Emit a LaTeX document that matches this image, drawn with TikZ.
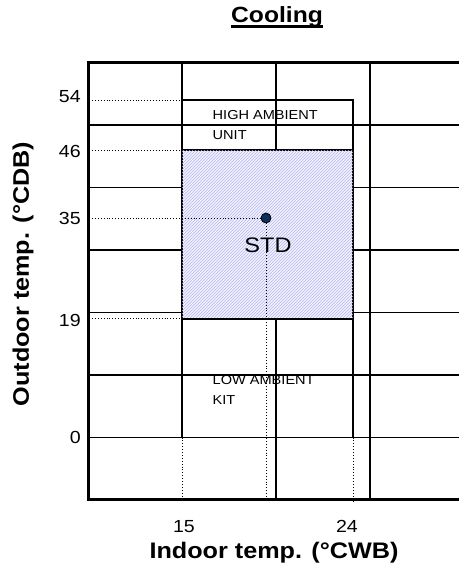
\documentclass[tikz,border=0pt]{standalone}
\usepackage{fontspec}
\setmainfont[FakeStretch=1.12]{Liberation Sans}
\usetikzlibrary{positioning,patterns}
\definecolor{hatchblue}{RGB}{182,182,240}
\definecolor{hatchback}{RGB}{242,242,254}
\definecolor{dotnavy}{RGB}{12,48,92}

\begin{document}
\begin{tikzpicture}[x=1pt, y=-1pt,
    gridline/.style={line width=1.1pt},
    frameline/.style={line width=3pt},
    zone/.style={draw, line width=1.7pt, minimum width=171pt, inner sep=0pt, outer sep=0pt},
    guide/.style={dotted, line width=0.9pt},
    tick/.style={font=\fontsize{17.5}{19}\selectfont, inner sep=1pt},
    axis/.style={font=\bfseries\fontsize{22.5}{25}\selectfont},
    zonetext/.style={font=\fontsize{13}{19.5}\selectfont, align=left, inner sep=0pt, anchor=north west}
]
\useasboundingbox (0,0) rectangle (459,571);

% grid
\foreach \y in {125,187.5,250,312.5,375,437.5}
  \draw[gridline] (88,\y) -- (459,\y);
\draw[gridline] (182,62) -- (182,437.5);
\foreach \x in {276,370}
  \draw[gridline] (\x,62) -- (\x,499);

% operating zones
\node[zone, minimum height=50pt, anchor=north west] (high) at (182,100) {};
\node[zone, minimum height=168.75pt, below=0pt of high,
      fill=hatchback, postaction={pattern=north east lines, pattern color=hatchblue}] (std) {};
\node[zone, minimum height=118.75pt, below=0pt of std] (low) {};

\node[zonetext] (hightext) at (212.5,110.5) {HIGH AMBIENT\\UNIT};
\node[zonetext] (lowtext) at (212.5,375.5) {LOW AMBIENT\\KIT};
\node[font=\fontsize{21}{24}\selectfont] (stdtext) at (268,245) {STD};

% rated point
\node[circle, draw, line width=0.8pt, fill=dotnavy, inner sep=0pt, minimum size=10pt] (rated) at (266,218) {};

% frame
\draw[frameline] (459,62) -- (88,62) -- (88,499) -- (459,499);

% guides
\coordinate (g54) at (92,100);
\coordinate (g46) at (92,150);
\coordinate (g35) at (92,218);
\coordinate (g19) at (92,318.75);
\coordinate (g15) at (182,499);
\coordinate (g24) at (353,502);
\coordinate (gin) at (266,499);
\draw[guide] (g54) -- (high.north west);
\draw[guide] (g46) -- (std.north west);
\draw[guide] (g35) -- (rated);
\draw[guide] (g19) -- (std.south west);
\draw[guide] (rated) -- (gin);
\draw[guide] (low.south west) -- (g15);
\draw[guide] (low.south east) -- (g24);

% axis ticks
\node[tick, anchor=east] (t54) at (82,97) {54};
\node[tick, anchor=east] (t46) at (82,151) {46};
\node[tick, anchor=east] (t35) at (82,218) {35};
\node[tick, anchor=east] (t19) at (82,320) {19};
\node[tick, anchor=east] (t0) at (82,437.5) {0};
\node[tick] (t15) at (184,527) {15};
\node[tick] (t24) at (347,526) {24};

% titles
\node[font=\bfseries\fontsize{22}{24}\selectfont, inner sep=0pt] (title) at (277,17) {Cooling};
\draw[line width=2.6pt] ([yshift=-4pt]title.base west) -- ([yshift=-4pt]title.base east);
\node[axis] (xlabel) at (274,553) {Indoor temp. (°CWB)};
\node[axis, rotate=90] (ylabel) at (23,274) {Outdoor temp. (°CDB)};

\end{tikzpicture}
\end{document}
